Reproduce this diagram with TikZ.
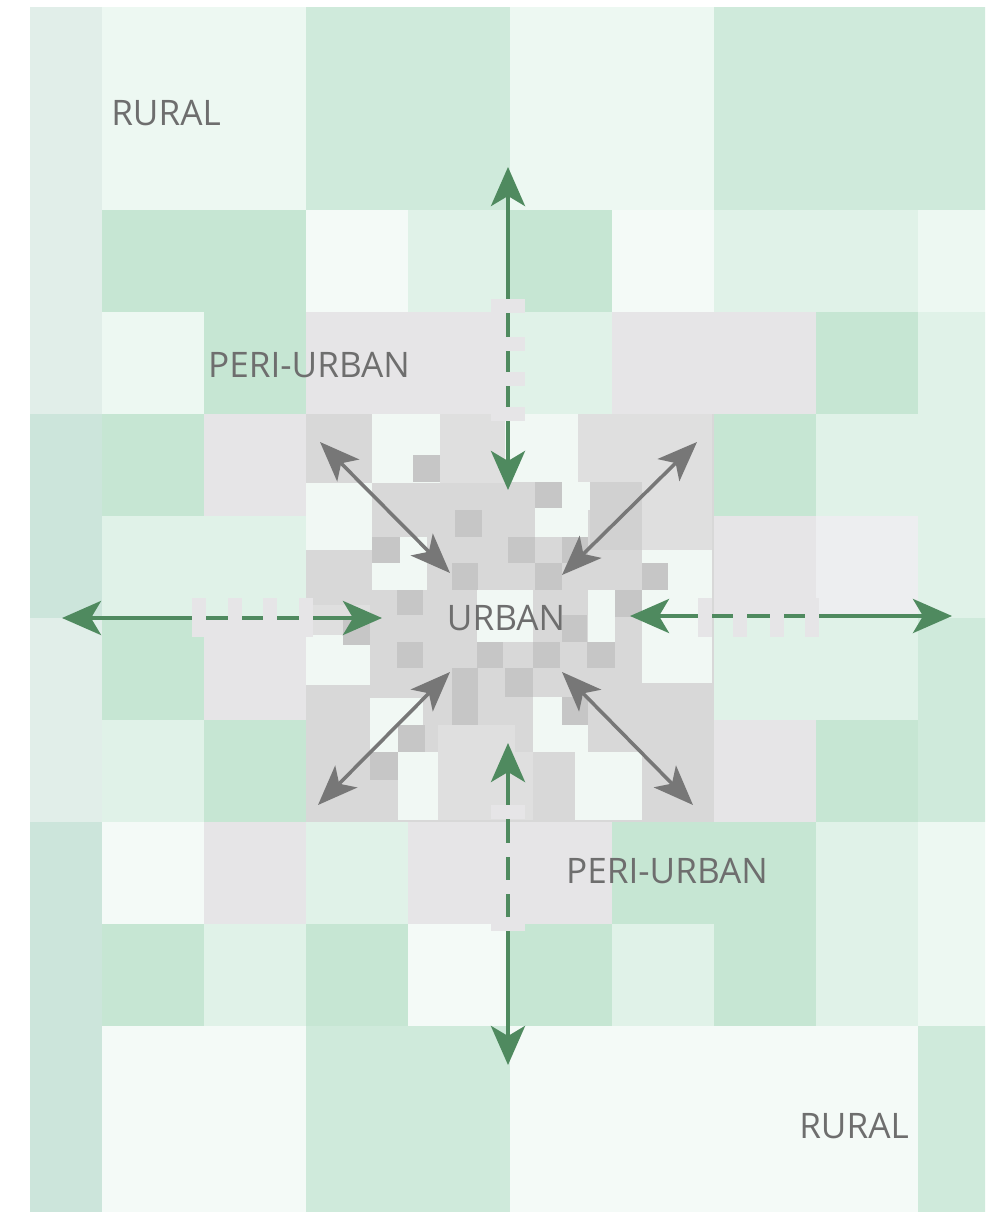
\documentclass[tikz,border=0pt]{standalone}
\usepackage{fontspec}
\setmainfont{Open Sans}
\usepackage{xcolor}
\usepackage{tikz}
\usetikzlibrary{arrows.meta}

\definecolor{tEdge}{HTML}{E1EEE9}
\definecolor{tTeal}{HTML}{CCE5DB}
\definecolor{tRural}{HTML}{EDF8F2}
\definecolor{tWhite}{HTML}{F4FAF7}
\definecolor{tLight}{HTML}{E0F2E8}
\definecolor{tMint}{HTML}{CFEADB}
\definecolor{tDeep}{HTML}{C6E6D3}
\definecolor{tGrey}{HTML}{E6E5E7}
\definecolor{tPale}{HTML}{EDEEF0}
\definecolor{cBase}{HTML}{D8D8D8}
\definecolor{cLight}{HTML}{DFDFDF}
\definecolor{cMid}{HTML}{D1D1D1}
\definecolor{cDark}{HTML}{C6C6C6}
\definecolor{cWhite}{HTML}{F1F8F4}
\definecolor{arrowgreen}{HTML}{4F8A5F}
\definecolor{arrowgray}{HTML}{777777}
\definecolor{labelgray}{HTML}{6E6E6E}

\begin{document}
\begin{tikzpicture}[x=0.02cm, y=-0.02cm,
    zone/.style={font=\fontsize{20}{24}\selectfont, text=labelgray, inner sep=0pt},
    notch/.style={fill=tGrey},
    greenarrow/.style={draw=arrowgreen, line width=2.4pt,
      {Stealth[length=0.78cm, width=0.68cm, inset=0.2cm]}-{Stealth[length=0.78cm, width=0.68cm, inset=0.2cm]}},
    grayarrow/.style={draw=arrowgray, line width=2pt,
      {Stealth[length=0.8cm, width=0.62cm, inset=0.2cm]}-{Stealth[length=0.8cm, width=0.62cm, inset=0.2cm]}}]
  \useasboundingbox (0,0) rectangle (995,1212);

  \begin{scope}
    \clip (30,8) rectangle (985,1212);

    % Coarse tiles, one row of ten per entry
    \foreach \row [count=\j from 0] in {
        {tEdge,tRural,tRural,tMint,tMint,tRural,tRural,tMint,tMint,tMint},
        {tEdge,tRural,tRural,tMint,tMint,tRural,tRural,tMint,tMint,tMint},
        {tEdge,tDeep,tDeep,tWhite,tLight,tDeep,tWhite,tLight,tLight,tRural},
        {tEdge,tRural,tDeep,tGrey,tGrey,tLight,tGrey,tGrey,tDeep,tLight},
        {tTeal,tDeep,tGrey,cBase,cBase,cBase,cBase,tDeep,tLight,tLight},
        {tTeal,tLight,tLight,cBase,cBase,cBase,cBase,tGrey,tPale,tLight},
        {tEdge,tDeep,tGrey,cBase,cBase,cBase,cBase,tLight,tLight,tMint},
        {tEdge,tLight,tDeep,cBase,cBase,cBase,cBase,tGrey,tDeep,tMint},
        {tTeal,tWhite,tGrey,tLight,tGrey,tGrey,tDeep,tDeep,tLight,tRural},
        {tTeal,tDeep,tLight,tDeep,tWhite,tDeep,tLight,tDeep,tLight,tRural},
        {tTeal,tWhite,tWhite,tMint,tMint,tWhite,tWhite,tWhite,tWhite,tMint},
        {tTeal,tWhite,tWhite,tMint,tMint,tWhite,tWhite,tWhite,tWhite,tMint}} {
      \foreach \c [count=\i from 0] in \row
        \fill[fill=\c] (102*\i, 6+102*\j) rectangle ++(102,102);
    }

    % Urban core: lighter and darker blocks
    \foreach \xa/\ya/\xb/\yb in {440/414/505/483, 578/414/712/482, 642/482/712/550,
        303/605/370/635, 438/725/515/820, 505/752/533/820}
      \fill[cLight] (\xa,\ya) rectangle (\xb,\yb);
    \foreach \xa/\ya/\xb/\yb in {590/482/642/550}
      \fill[cMid] (\xa,\ya) rectangle (\xb,\yb);
    \foreach \xa/\ya/\xb/\yb in {372/414/440/483, 505/414/578/482, 306/483/372/550,
        400/537/427/563, 372/563/427/590, 562/482/590/510, 535/508/588/537,
        642/550/712/683, 588/590/615/642, 306/635/370/685, 370/698/423/752,
        398/752/438/820, 533/697/588/752, 575/752/642/820, 477/590/533/642}
      \fill[cWhite] (\xa,\ya) rectangle (\xb,\yb);
    \foreach \xa/\ya/\xb/\yb in {413/455/440/482, 455/510/482/537, 372/537/400/563,
        452/563/478/590, 535/482/562/508, 508/537/535/563, 562/537/588/563,
        535/563/562/590, 642/563/668/590, 615/590/642/617, 562/615/587/642,
        343/618/370/645, 397/642/423/668, 477/642/503/668, 505/668/533/697,
        452/668/478/725, 533/642/560/668, 587/642/615/668, 562/697/588/725,
        398/725/425/752, 370/752/398/780, 397/590/423/615}
      \fill[cDark] (\xa,\ya) rectangle (\xb,\yb);
  \end{scope}

  % Arrow ends
  \coordinate (northOut) at (508, 167);
  \coordinate (northIn) at (508, 490);
  \coordinate (southIn) at (508, 743);
  \coordinate (southOut) at (508, 1065);
  \coordinate (westOut) at (62, 618);
  \coordinate (westIn) at (382, 618);
  \coordinate (eastIn) at (630, 616);
  \coordinate (eastOut) at (952, 616);
  \coordinate (nwOut) at (320, 442);
  \coordinate (nwIn) at (450, 573);
  \coordinate (neOut) at (697, 442);
  \coordinate (neIn) at (562, 575);
  \coordinate (swOut) at (318, 805);
  \coordinate (swIn) at (450, 672);
  \coordinate (seOut) at (693, 805);
  \coordinate (seIn) at (562, 672);

  % Green arrows
  \draw[greenarrow] (northOut) -- (northIn);
  \draw[greenarrow] (southIn) -- (southOut);
  \draw[greenarrow] (westOut) -- (westIn);
  \draw[greenarrow] (eastIn) -- (eastOut);

  % Gaps in the dashed parts
  \foreach \y in {306,344,379,414,812,850,887,924}
    \fill[notch] (491,\y-7) rectangle (525,\y+7);
  \foreach \x in {199,235,270,306,705,740,777,812}
    \fill[notch] (\x-7,598) rectangle (\x+7,637);

  % Gray arrows
  \draw[grayarrow] (nwOut) -- (nwIn);
  \draw[grayarrow] (neOut) -- (neIn);
  \draw[grayarrow] (swOut) -- (swIn);
  \draw[grayarrow] (seOut) -- (seIn);

  % Labels
  \node[zone] (ruralTop) at (166, 113) {RURAL};
  \node[zone] (periTop) at (309, 365) {PERI-URBAN};
  \node[zone] (urban) at (506, 618) {URBAN};
  \node[zone] (periBottom) at (667, 871) {PERI-URBAN};
  \node[zone] (ruralBottom) at (854, 1126) {RURAL};
\end{tikzpicture}
\end{document}
